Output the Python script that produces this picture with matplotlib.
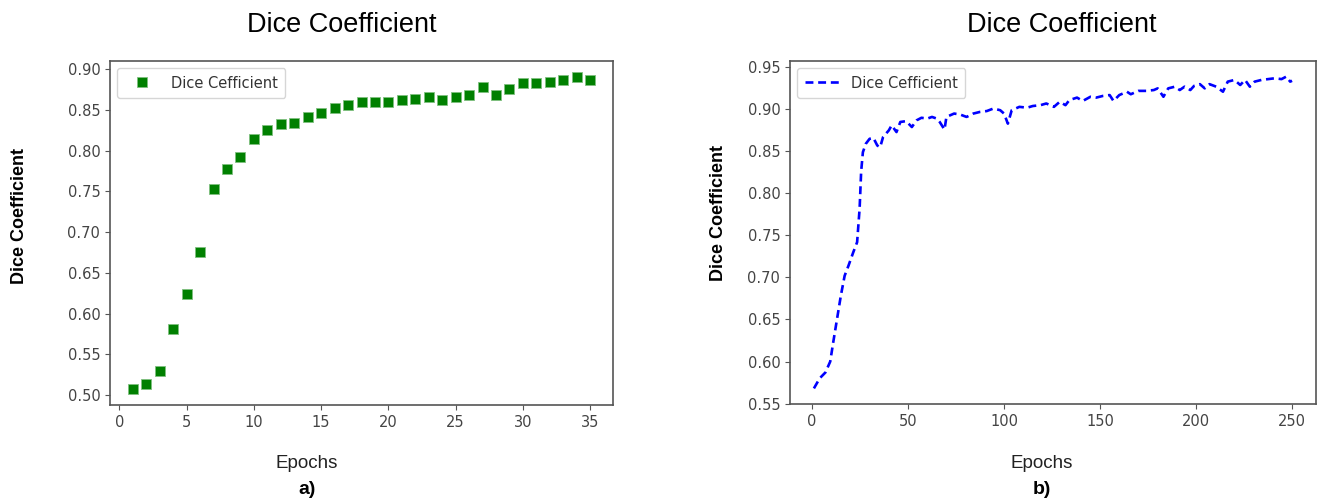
import matplotlib.pyplot as plt

plt.rcParams["font.family"] = ["DejaVu Sans"]

# left panel: dice per epoch (35 epochs)
epochs_a = list(range(1, 36))
dice_a = [0.507, 0.513, 0.529, 0.581, 0.624, 0.676, 0.753, 0.777, 0.792, 0.814,
          0.825, 0.833, 0.834, 0.842, 0.846, 0.853, 0.856, 0.860, 0.860, 0.860,
          0.862, 0.864, 0.866, 0.862, 0.866, 0.868, 0.878, 0.869, 0.876, 0.883,
          0.883, 0.885, 0.887, 0.891, 0.887]

# right panel: dice over 250 epochs
epochs_b = [1, 4, 7, 9.5, 11, 13, 15, 17, 19, 21.5, 23.5, 24.8, 25.6, 26.5, 28,
            30, 32, 34, 35.5, 37, 40, 41.5, 44, 46, 49, 52, 54.5, 57, 60, 62.5,
            65, 66.5, 69, 70, 74, 77, 80.5, 84, 87.5, 91, 94.5, 98, 100, 102,
            104, 108, 112, 115, 119, 122, 126, 129, 132, 134, 138, 141, 145,
            148, 151.5, 155, 157, 160, 164, 166, 170, 174, 178, 180, 183, 185.5,
            189, 191.5, 194, 197, 199, 202, 204.5, 207, 210.5, 214, 216.5, 220,
            223, 225.5, 228, 230.5, 234, 237.5, 241, 244.5, 247, 249, 250]
dice_b = [0.568, 0.580, 0.587, 0.600, 0.622, 0.650, 0.678, 0.702, 0.714, 0.730,
          0.742, 0.782, 0.826, 0.849, 0.859, 0.865, 0.866, 0.857, 0.855, 0.867,
          0.875, 0.881, 0.873, 0.885, 0.886, 0.879, 0.887, 0.890, 0.889, 0.891,
          0.889, 0.885, 0.876, 0.891, 0.895, 0.894, 0.891, 0.895, 0.897, 0.898,
          0.901, 0.899, 0.895, 0.883, 0.899, 0.903, 0.902, 0.904, 0.905, 0.907,
          0.903, 0.909, 0.905, 0.911, 0.914, 0.910, 0.915, 0.914, 0.916, 0.917,
          0.910, 0.917, 0.921, 0.918, 0.922, 0.922, 0.923, 0.925, 0.915, 0.925,
          0.927, 0.923, 0.927, 0.923, 0.928, 0.930, 0.925, 0.930, 0.927, 0.921,
          0.933, 0.935, 0.929, 0.935, 0.927, 0.933, 0.935, 0.936, 0.937, 0.936,
          0.939, 0.933, 0.934]

TITLE = "Dice Coefficient"
LEGEND_LABEL = "Dice Cefficient"

W, H = 1317, 499
fig = plt.figure(figsize=(W / 100, H / 100), dpi=100)

ax_a = fig.add_axes([110 / W, 1 - 405 / H, (613 - 110) / W, (405 - 61) / H])
ax_b = fig.add_axes([790 / W, 1 - 404 / H, (1316 - 790) / W, (404 - 61) / H])

ax_a.plot(epochs_a, dice_a, "s", color="green", markersize=7.5,
          markeredgecolor="#7fc07f", markeredgewidth=0.6, label=LEGEND_LABEL)
ax_b.plot(epochs_b, dice_b, color="blue", linewidth=1.9, dashes=(3, 1.8),
          label=LEGEND_LABEL)

ax_a.set_yticks([0.50, 0.55, 0.60, 0.65, 0.70, 0.75, 0.80, 0.85, 0.90])
ax_a.set_xticks(range(0, 40, 5))
ax_b.set_yticks([0.55, 0.60, 0.65, 0.70, 0.75, 0.80, 0.85, 0.90, 0.95])
ax_b.set_xticks(range(0, 300, 50))

for ax in (ax_a, ax_b):
    ax.tick_params(labelsize=10.5, colors="#555555", labelcolor="#444444")
    for s in ax.spines.values():
        s.set_color("#555555")
        s.set_linewidth(1.2)
    leg = ax.legend(loc="upper left", fontsize=10.5, handlelength=2.4,
                    borderpad=0.5)
    for t in leg.get_texts():
        t.set_color("#333333")

sans = ["Liberation Sans", "DejaVu Sans"]
for cx, ty in ((342, 25), (1062, 25)):
    fig.text(cx / W, 1 - ty / H, TITLE, ha="center", va="center",
             fontsize=19.5, family=sans)
for cx, cy in ((20, 216), (718, 213)):
    fig.text(cx / W, 1 - cy / H, "Dice Coefficient", rotation=90, ha="center",
             va="center", fontsize=13, fontweight="bold", family=sans)
for cx, tag in ((307, "a)"), (1042, "b)")):
    fig.text(cx / W, 1 - 463 / H, "Epochs", ha="center", va="center",
             fontsize=13.5, family=sans, color="#222222")
    fig.text(cx / W, 1 - 489 / H, tag, ha="center", va="center",
             fontsize=14, fontweight="bold", family=sans)

fig.savefig("out.png", dpi=100)
